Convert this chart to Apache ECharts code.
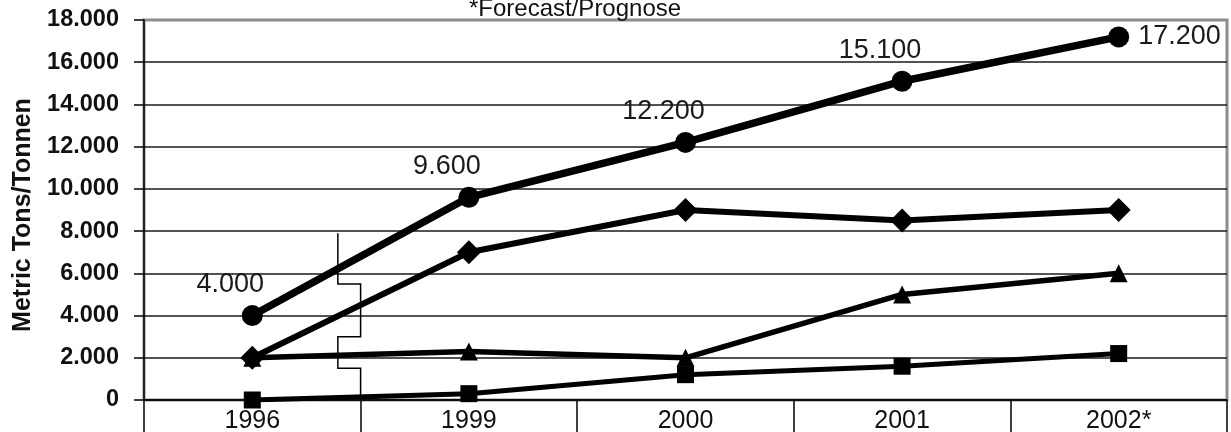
<!DOCTYPE html>
<html>
<head>
<meta charset="utf-8">
<script src="https://cdn.jsdelivr.net/npm/echarts@6/dist/echarts.min.js"></script>
<style>
html,body{margin:0;padding:0;background:#fff;}
#chart{width:1231px;height:432px;}
</style>
</head>
<body>
<div id="chart"></div>
<script>
// ---- data ----
const categories = ['1996', '1999', '2000', '2001', '2002*'];
const circleValues = [4000, 9600, 12200, 15100, 17200];
const diamondValues = [2000, 7000, 9000, 8500, 9000];
const triangleValues = [2000, 2300, 2000, 5000, 6000];
const squareValues = [0, 300, 1200, 1600, 2200];
const yMin = 0, yMax = 18000, yStep = 2000;
const breakLevels = [7900, 5500, 3000, 1500, 0];
const titleText = '*Forecast/Prognose';
const yAxisName = 'Metric Tons/Tonnen';

const FONT = '"Liberation Sans", Arial, Helvetica, sans-serif';
const fmt = v => String(v).replace(/\B(?=(\d{3})+(?!\d))/g, '.');

const chart = echarts.init(document.getElementById('chart'), null, {renderer: 'canvas'});

function lineSeries(name, values, symbol, size, width, z) {
  return {
    name: name, type: 'line', data: values, symbol: symbol, symbolSize: size,
    z: z, animation: false,
    lineStyle: {color: '#000', width: width},
    itemStyle: {color: '#000', borderWidth: 0}
  };
}

const circle = lineSeries('circle', circleValues.map((v, i) => {
  if (i === circleValues.length - 1) {
    return {value: v, label: {position: 'right', distance: 9, offset: [0, 0]}};
  }
  return v;
}), 'circle', 21, 7.5, 6);
circle.label = {
  show: true, position: 'top', distance: 7, offset: [-22, 0],
  formatter: p => fmt(p.value), fontFamily: FONT, fontSize: 27, color: '#1a1a1a'
};

const nLines = Math.round((yMax - yMin) / yStep) + 1;
const splitColors = [];
for (let i = 0; i < nLines; i++) splitColors.push(i === nLines - 1 ? '#8c8c8c' : '#1a1a1a');

const option = {
  animation: false,
  backgroundColor: '#fff',
  title: {
    text: titleText, left: 464, top: -8,
    textStyle: {fontFamily: FONT, fontSize: 24, fontWeight: 'normal', color: '#111'}
  },
  grid: {
    left: 144, right: 4, top: 20, bottom: 32, show: true,
    containLabel: false, outerBoundsMode: 'none',
    borderColor: '#8c8c8c', borderWidth: 3, backgroundColor: 'transparent'
  },
  xAxis: {
    type: 'category', data: categories, boundaryGap: true,
    axisLine: {show: true, lineStyle: {color: '#000', width: 1.5}},
    axisTick: {show: true, interval: 0, length: 32, lineStyle: {color: '#000', width: 1.5}},
    axisLabel: {fontFamily: FONT, fontSize: 25, color: '#111', margin: 9, interval: 0},
    splitLine: {show: false}
  },
  yAxis: {
    type: 'value', min: yMin, max: yMax, interval: yStep,
    name: yAxisName, nameLocation: 'middle', nameGap: 108, nameRotate: 90,
    nameTextStyle: {fontFamily: FONT, fontSize: 25, fontWeight: 'bold', color: '#111',
      padding: [0, 10, 0, 0]},
    axisLine: {show: true, lineStyle: {color: '#000', width: 1.5}},
    axisTick: {show: true, length: 10, lineStyle: {color: '#000', width: 1.5}},
    axisLabel: {fontFamily: FONT, fontSize: 23.5, fontWeight: 'bold', color: '#111', margin: 25,
      formatter: v => fmt(v)},
    splitLine: {show: true, lineStyle: {color: splitColors, width: 1.5}}
  },
  series: [
    {
      type: 'custom', z: 1, silent: true, animation: false,
      data: [[0, 0]],
      renderItem: function (params, api) {
        const bandW = api.size([1, 0])[0];
        const xb = api.coord([0, 0])[0] + bandW / 2;
        const xl = xb - bandW * 0.105;
        const y = v => api.coord([0, v])[1];
        const pts = [
          [xl, y(breakLevels[0])], [xl, y(breakLevels[1])],
          [xb, y(breakLevels[1])], [xb, y(breakLevels[2])],
          [xl, y(breakLevels[2])], [xl, y(breakLevels[3])],
          [xb, y(breakLevels[3])], [xb, y(breakLevels[4])]
        ];
        return {type: 'polyline', shape: {points: pts},
          style: {stroke: '#000', lineWidth: 1.5, fill: null}};
      }
    },
    lineSeries('square', squareValues, 'rect', 17, 5, 3),
    lineSeries('triangle', triangleValues, 'triangle', 18, 5.5, 4),
    lineSeries('diamond', diamondValues, 'diamond', 24, 6, 5),
    circle
  ]
};
chart.setOption(option);
</script>
</body>
</html>
